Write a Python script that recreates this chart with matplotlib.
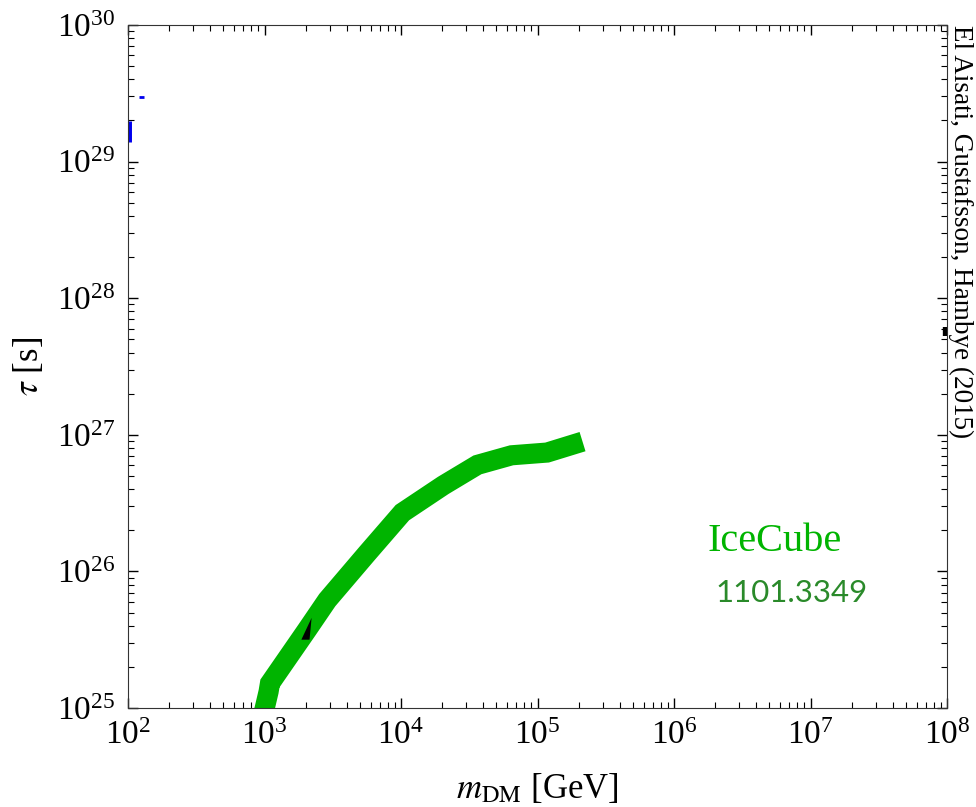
import matplotlib
matplotlib.use('Agg')
import matplotlib.pyplot as plt
import numpy as np

plt.rcParams['font.family'] = ['Liberation Serif', 'DejaVu Serif']
plt.rcParams['mathtext.fontset'] = 'stix'

# IceCube limit (log10 values)
icecube_logm = [2.99, 3.03, 3.04, 3.31, 3.46, 3.75, 4.01, 4.31, 4.56, 4.81, 5.07, 5.33]
icecube_logtau = [24.95, 25.12, 25.18, 25.57, 25.79, 26.13, 26.43, 26.63, 26.78, 26.85, 26.87, 26.95]

# small black wedge on the IceCube line
wedge_logm = [3.27, 3.33, 3.345]
wedge_logtau = [25.50, 25.50, 25.66]

# clipped pieces at the plot edges
blue_logm = [2.0, 2.0]
blue_logtau = [29.14, 29.30]
blue2_logm = [2.08, 2.12]
blue2_logtau = [29.47, 29.47]
edge_logm = [8.0, 8.0]
edge_logtau = [27.72, 27.79]

fig = plt.figure(figsize=(9.76, 8.07), dpi=100)
ax = fig.add_axes([128/976, 1-708/807, (947-128)/976, (708-25)/807])

ax.plot(10**np.array(icecube_logm), 10**np.array(icecube_logtau), color='#00b400',
        lw=14.5, solid_capstyle='butt', solid_joinstyle='miter')
ax.fill(10**np.array(wedge_logm), 10**np.array(wedge_logtau), color='black', lw=0, zorder=3)
ax.plot(10**np.array(blue_logm), 10**np.array(blue_logtau), color='#0000ee', lw=5,
        solid_capstyle='butt')
ax.plot(10**np.array(blue2_logm), 10**np.array(blue2_logtau), color='#0000ee', lw=2,
        solid_capstyle='butt')
ax.plot(10**np.array(edge_logm), 10**np.array(edge_logtau), color='black', lw=6,
        solid_capstyle='butt')

ax.set_xscale('log')
ax.set_yscale('log')
ax.set_xlim(1e2, 1e8)
ax.set_ylim(1e25, 1e30)

ax.tick_params(which='both', direction='in', top=True, right=True, labelsize=24)
ax.tick_params(which='major', length=7, width=1)
ax.tick_params(which='minor', length=4, width=0.8)
ax.tick_params(axis='x', pad=9)
ax.tick_params(axis='y', pad=9)
for s in ax.spines.values():
    s.set_color('#333333')

ax.set_xlabel(r'$m_{\mathrm{DM}}$ [GeV]', fontsize=25)
ax.set_ylabel(r'$\tau$ [s]', fontsize=25)
ax.xaxis.set_label_coords(0.5, -0.094)
ax.yaxis.set_label_coords(-0.10, 0.5)

ax.text(0.707, 0.23, 'IceCube', transform=ax.transAxes, color='#00b400', fontsize=29)
ax.text(0.717, 0.155, '1101.3349', transform=ax.transAxes, color='#2a8a2a',
        fontsize=22.5, family=['Lato', 'DejaVu Sans'])

fig.text(961/976, 1-25/807, 'El Aisati, Gustafsson, Hambye (2015)', rotation=-90,
         ha='center', va='top', fontsize=19.5)

plt.savefig('out.png', dpi=100)
plt.close()
